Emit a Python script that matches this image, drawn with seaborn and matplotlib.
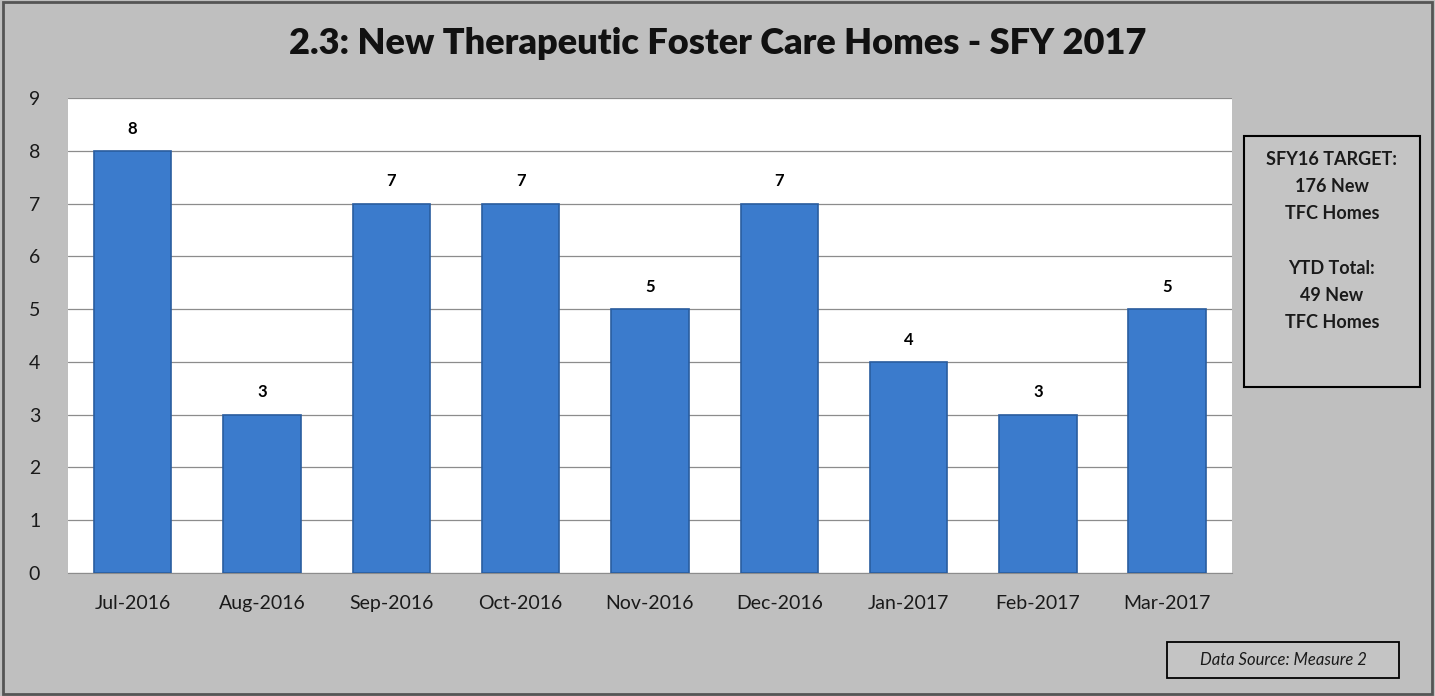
import matplotlib
matplotlib.use("Agg")
import matplotlib.pyplot as plt
import seaborn as sns
import pandas as pd
from matplotlib.patches import Rectangle

months = ['Jul-2016', 'Aug-2016', 'Sep-2016', 'Oct-2016', 'Nov-2016',
          'Dec-2016', 'Jan-2017', 'Feb-2017', 'Mar-2017']
new_homes = [8, 3, 7, 7, 5, 7, 4, 3, 5]
y_ticks = list(range(0, 10))
title = '2.3: New Therapeutic Foster Care Homes - SFY 2017'
side_note = 'SFY16 TARGET:\n176 New\nTFC Homes\n\nYTD Total:\n49 New\nTFC Homes'
source_note = 'Data Source: Measure 2'

sns.set_style("white")
plt.rcParams['font.family'] = ['Lato', 'DejaVu Sans']

df = pd.DataFrame({'Month': months, 'Homes': new_homes})

fig = plt.figure(figsize=(14.35, 6.96), dpi=100)
fig.patch.set_facecolor('#bfbfbf')
ax = fig.add_axes([0.0474, 0.1767, 0.8111, 0.6825])
ax.set_facecolor('white')

sns.barplot(x='Month', y='Homes', data=df, color='#3b7bcc', width=0.6,
            edgecolor='#2a5d9f', linewidth=1.2, saturation=1, ax=ax, zorder=3)

for i, v in enumerate(new_homes):
    ax.text(i, v + 0.27, str(v), ha='center', va='bottom', fontsize=12,
            fontweight='bold', color='black')

ax.set_ylim(0, 9)
ax.set_xlim(-0.5, len(months) - 0.5)
ax.set_yticks(y_ticks)
ax.yaxis.grid(True, color='#8c8c8c', linewidth=0.9, zorder=0)
ax.set_axisbelow(True)
for s in ['top', 'right', 'left']:
    ax.spines[s].set_visible(False)
ax.spines['bottom'].set_color('#8c8c8c')
ax.tick_params(axis='both', length=0, labelsize=14, colors='#1a1a1a')
ax.tick_params(axis='x', pad=16)
ax.tick_params(axis='y', pad=20)
ax.set_xlabel('')
ax.set_ylabel('')

fig.text(0.5, 1 - 44 / 696, title, ha='center', va='center', fontsize=26,
         fontweight='heavy', color='#111111')

# side box
fig.patches.append(Rectangle((1244 / 1435, 1 - 387 / 696), 176 / 1435, 251 / 696,
                             transform=fig.transFigure, facecolor='#c4c4c4',
                             edgecolor='black', linewidth=1.5))
fig.text(1332 / 1435, 1 - 241 / 696, side_note, ha='center', va='center',
         fontsize=13, fontweight='bold', color='#1a1a1a', linespacing=1.72)

# source box
fig.patches.append(Rectangle((1167 / 1435, 1 - 678 / 696), 232 / 1435, 36 / 696,
                             transform=fig.transFigure, facecolor='#c4c4c4',
                             edgecolor='black', linewidth=1.3))
fig.text(1283 / 1435, 1 - 660 / 696, source_note, ha='center', va='center',
         fontsize=12, style='italic', color='#1a1a1a')

# outer frame
fig.patches.append(Rectangle((0.002, 0.003), 0.996, 0.994, transform=fig.transFigure,
                             facecolor='none', edgecolor='#555555', linewidth=2))

fig.savefig('out.png', dpi=100, facecolor=fig.get_facecolor())
